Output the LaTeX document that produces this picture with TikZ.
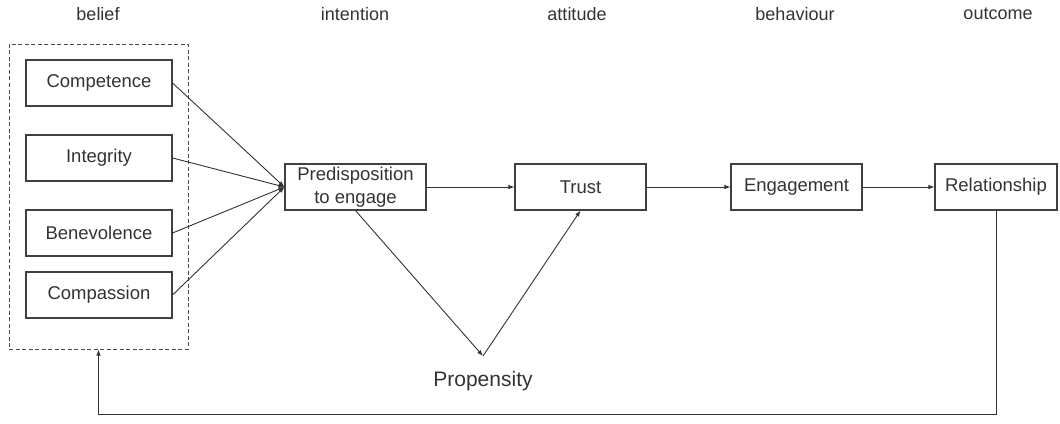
\documentclass[tikz,border=0pt]{standalone}
\usepackage{fontspec}
\setmainfont{Liberation Sans}
\usetikzlibrary{arrows.meta}

\tikzset{
  box/.style={draw=black!75, line width=1.1pt, text=black!80, font=\fontsize{18.5}{23}\selectfont,
    minimum width=146pt, minimum height=46pt, inner sep=1pt},
  head/.style={text=black!80, font=\fontsize{18}{20}\selectfont},
  arr/.style={draw=black!80, line width=0.9pt, -{Latex[length=6pt,width=4.5pt]}}
}

\begin{document}
\begin{tikzpicture}[x=1pt, y=-1pt]
\useasboundingbox (0,0) rectangle (1060,423);

% column headings
\node[head] (hbelief) at (98,14) {belief};
\node[head] (hintent) at (355,14) {intention};
\node[head] (hattit) at (577,14) {attitude};
\node[head] (hbehav) at (795,14) {behaviour};
\node[head] (hout) at (998,14) {outcome};

% belief group
\node[draw=black!70, dash pattern=on 4pt off 2.5pt, line width=1pt, minimum width=179pt, minimum height=305pt] (beliefbox) at (98.5,196.5) {};
\node[box] (comp) at (99,83) {Competence};
\node[box] (integ) at (99,158) {Integrity};
\node[box] (benev) at (99,233) {Benevolence};
\node[box] (compas) at (99,295) {Compassion};

% main chain
\node[box, minimum width=141pt, align=center] (predis) at (355.5,187) {Predisposition\\to engage};
\node[box, minimum width=131pt] (trust) at (580.5,187) {Trust};
\node[box, minimum width=131pt] (engage) at (796.5,187) {Engagement};
\node[box, minimum width=122pt] (rel) at (996,187) {Relationship};

\node[text=black!80, font=\fontsize{21}{24}\selectfont] (propen) at (483,381) {Propensity};
\coordinate (ptip) at (483,356);
\coordinate (low) at (0,414);

\foreach \b in {comp,integ,benev,compas}
  \draw[arr] (\b.east) -- (predis.west);

\draw[arr] (predis) -- (trust);
\draw[arr] (trust) -- (engage);
\draw[arr] (engage) -- (rel);

\draw[arr] (predis.south) -- (ptip);
\draw[arr] (ptip) -- (trust.south);

% feedback loop
\draw[arr] (rel.south) -- (rel.south |- low) -| (beliefbox.south);
\end{tikzpicture}
\end{document}
